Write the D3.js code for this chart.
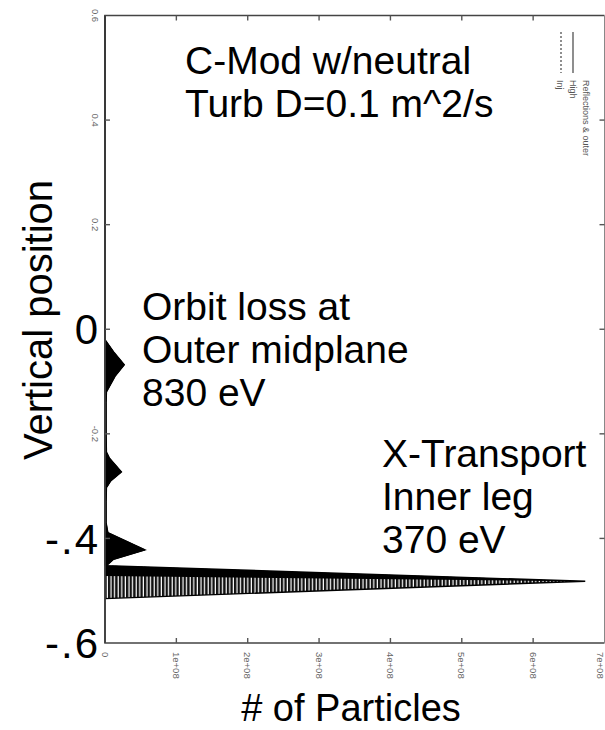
<!DOCTYPE html>
<html><head><meta charset="utf-8">
<script src="https://cdn.jsdelivr.net/npm/d3@7"></script>
<style>
html,body{margin:0;padding:0;background:#fff;}
svg{display:block;}
text{font-family:"Liberation Sans",Arial,Helvetica,sans-serif;}
</style></head>
<body>
<svg id="chart" width="605" height="730"></svg>
<script>
// ---- data ----
const positions = [0.6, -0.02, -0.045, -0.068, -0.09, -0.12, -0.14, -0.2, -0.235, -0.246, -0.273, -0.29, -0.303, -0.33, -0.37, -0.389, -0.422, -0.44, -0.452, -0.482, -0.515, -0.6];
const counts    = [0, 0, 1.3e7, 2.7e7, 1.4e7, 2e6, 1.5e6, 1.5e6, 2e6, 6e6, 2.3e7, 8e6, 2e6, 1.5e6, 1.5e6, 4e6, 5.6e7, 1.2e7, 2e6, 6.73e8, 0, 0];
// dense core of the inner-leg spike
const corePositions = [-0.452, -0.482, -0.472];
const coreCounts    = [0, 6.73e8, 0];
const yTicks = [0.6, 0.4, 0.2, 0, -0.2, -0.4, -0.6];
const ySmallTickLabels = ["0.6", "0.4", "0.2", "", "-0.2", "", ""];
const yBigTickLabels = ["", "", "", "0", "", "-.4", "-.6"];
const xTicks = [0, 1e8, 2e8, 3e8, 4e8, 5e8, 6e8, 7e8];
const xTickLabels = ["0", "1e+08", "2e+08", "3e+08", "4e+08", "5e+08", "6e+08", "7e+08"];
const titleLines = ["C-Mod w/neutral", "Turb D=0.1 m^2/s"];
const orbitLines = ["Orbit loss at", "Outer midplane", "830 eV"];
const xportLines = ["X-Transport", "Inner leg", "370 eV"];
const legendLabels = ["Inj", "High", "Reflections & outer"];

// ---- layout ----
const svg = d3.select("#chart");
const L = 105, R = 604.5, T = 15.5, B = 643;
const x = d3.scaleLinear().domain([0, 7e8]).range([L, R]);
const y = d3.scaleLinear().domain([-0.6, 0.6]).range([B, T]);

// stripe pattern for spike
const defs = svg.append("defs");
const pat = defs.append("pattern").attr("id","stripes").attr("patternUnits","userSpaceOnUse")
  .attr("width",3.6).attr("height",10);
pat.append("rect").attr("width",3.6).attr("height",10).attr("fill","#fff");
pat.append("rect").attr("width",2.4).attr("height",10).attr("fill","#111");

// profile area
const pts = positions.map((p,i)=>({p, c:counts[i]}));
const area = d3.area().y(d=>y(d.p)).x0(x(0)).x1(d=>x(d.c));
svg.append("path").datum(pts).attr("d", area)
  .attr("fill","url(#stripes)").attr("stroke","#000").attr("stroke-width",1.4);
// solid peaks (non-spike parts)
const solid = pts.filter(d=>d.p>-0.455);
svg.append("path").datum(solid).attr("d", area).attr("fill","#000").attr("stroke","#000").attr("stroke-width",1);
// core
const core = corePositions.map((p,i)=>[x(coreCounts[i]), y(p)]);
svg.append("path").attr("d", d3.line()(core)+"Z").attr("fill","#000");

// frame
const frame = svg.append("g").attr("stroke","#444").attr("stroke-width",1.6).attr("fill","none");
frame.append("path").attr("d",`M${R},${T}H${L}V${B}H${R}`);
frame.append("path").attr("d",`M${R},${T}V${B}`).attr("stroke","#888").attr("stroke-width",1);

// ticks
const tk = svg.append("g").attr("stroke","#555").attr("stroke-width",1.4);
xTicks.slice(1,7).forEach(v=>{
  tk.append("line").attr("x1",x(v)).attr("x2",x(v)).attr("y1",T).attr("y2",T+5);
  tk.append("line").attr("x1",x(v)).attr("x2",x(v)).attr("y1",B).attr("y2",B-5);
});
yTicks.slice(1,6).forEach(v=>{
  tk.append("line").attr("x1",L).attr("x2",L+5).attr("y1",y(v)).attr("y2",y(v));
  tk.append("line").attr("x1",R).attr("x2",R-5).attr("y1",y(v)).attr("y2",y(v));
});

// small rotated tick labels
yTicks.forEach((v,i)=>{
  if(!ySmallTickLabels[i]) return;
  svg.append("text").attr("transform",`translate(92,${y(v)}) rotate(90)`)
    .attr("text-anchor","middle").attr("font-size",9.5).attr("fill","#666").text(ySmallTickLabels[i]);
});
xTicks.forEach((v,i)=>{
  const px = Math.min(x(v), 600);
  svg.append("text").attr("transform",`translate(${px},652) rotate(90)`)
    .attr("text-anchor","start").attr("dy","0.35em").attr("font-size",9.5).attr("fill","#666").text(xTickLabels[i]);
});

// big tick labels
yTicks.forEach((v,i)=>{
  if(!yBigTickLabels[i]) return;
  svg.append("text").attr("x",100).attr("y",y(v)).attr("dy","0.36em")
    .attr("text-anchor","end").attr("font-size",42).attr("letter-spacing",2).attr("fill","#000").text(yBigTickLabels[i]);
});

// axis titles
svg.append("text").attr("transform","translate(52,320) rotate(-90)").attr("text-anchor","middle")
  .attr("font-size",40).attr("fill","#000").text("Vertical position");
svg.append("text").attr("x",351).attr("y",721).attr("text-anchor","middle")
  .attr("font-size",38).attr("fill","#000").text("# of Particles");

// annotations
function block(lines,x0,y0,dy){
  lines.forEach((t,i)=>svg.append("text").attr("x",x0).attr("y",y0+i*dy).attr("font-size",39).attr("fill","#000").text(t));
}
block(titleLines,185,74,43);
block(orbitLines,142,320,43);
block(xportLines,382,467,43);

// legend
const lg = svg.append("g");
lg.append("line").attr("x1",561).attr("x2",561).attr("y1",32).attr("y2",73).attr("stroke","#444").attr("stroke-width",1.2).attr("stroke-dasharray","2,2");
lg.append("line").attr("x1",573).attr("x2",573).attr("y1",32).attr("y2",73).attr("stroke","#444").attr("stroke-width",1.2);
[557,570,583].forEach((px,i)=>{
  lg.append("text").attr("transform",`translate(${px},80) rotate(90)`).attr("text-anchor","start")
    .attr("font-size",9).attr("fill","#555").text(legendLabels[i]);
});
</script>
</body></html>
